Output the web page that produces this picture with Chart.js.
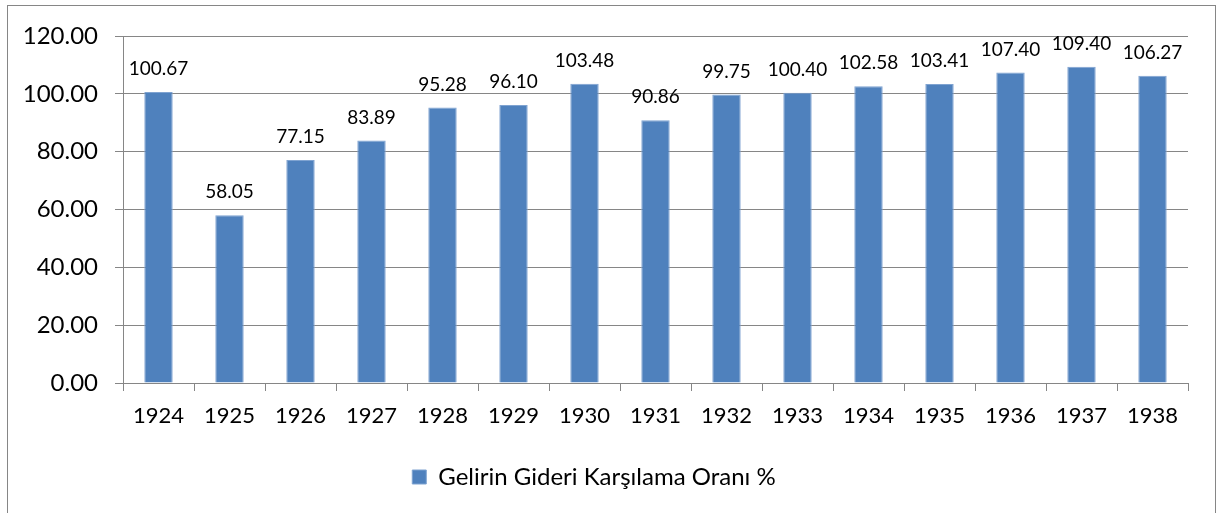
<!DOCTYPE html>
<html>
<head>
<meta charset="utf-8">
<script src="https://cdn.jsdelivr.net/npm/chart.js@4.4.0/dist/chart.umd.min.js"></script>
<style>
html,body{margin:0;padding:0;background:#fff;}
#wrap{width:1217px;height:513px;position:relative;}
</style>
</head>
<body>
<div id="wrap"><canvas id="c" width="1217" height="513"></canvas></div>
<script>
const categories = ['1924','1925','1926','1927','1928','1929','1930','1931','1932','1933','1934','1935','1936','1937','1938'];
const values = [100.67, 58.05, 77.15, 83.89, 95.28, 96.10, 103.48, 90.86, 99.75, 100.40, 102.58, 103.41, 107.40, 109.40, 106.27];
const seriesName = 'Gelirin Gideri Karşılama Oranı %';
const yTicks = [0, 20, 40, 60, 80, 100, 120];

const FONT = 'Lato';

const frame = {
  id: 'frame',
  beforeDraw(chart) {
    const ctx = chart.ctx;
    ctx.save();
    ctx.fillStyle = '#fff';
    ctx.fillRect(0, 0, chart.width, chart.height);
    ctx.strokeStyle = '#868686';
    ctx.lineWidth = 1;
    ctx.strokeRect(7.5, 5.5, 1208, 530);
    ctx.restore();
  }
};

const labels = {
  id: 'labels',
  afterDatasetsDraw(chart) {
    const ctx = chart.ctx;
    const meta = chart.getDatasetMeta(0);
    ctx.save();
    ctx.font = '19px ' + FONT;
    ctx.fillStyle = '#000';
    ctx.textAlign = 'center';
    ctx.textBaseline = 'middle';
    meta.data.forEach((bar, i) => {
      ctx.fillText(values[i].toFixed(2), bar.x, bar.y - 23);
    });
    ctx.restore();
  }
};

new Chart(document.getElementById('c'), {
  type: 'bar',
  data: {
    labels: categories,
    datasets: [{
      label: seriesName,
      data: values,
      backgroundColor: '#4F81BD',
      borderColor: '#7FA3D1',
      borderWidth: 1,
      categoryPercentage: 1,
      barPercentage: 0.4
    }]
  },
  options: {
    responsive: false,
    animation: false,
    devicePixelRatio: 1,
    layout: { padding: { left: 0, top: 36, right: 29, bottom: 14 } },
    plugins: {
      legend: {
        position: 'bottom',
        labels: {
          boxWidth: 14, boxHeight: 14,
          color: '#000',
          font: { family: FONT, size: 24 },
          padding: 10
        }
      },
      tooltip: { enabled: false }
    },
    scales: {
      x: {
        grid: { display: true, drawOnChartArea: false, drawTicks: true, tickLength: 8, color: '#868686', offset: true },
        border: { color: '#868686', width: 1 },
        ticks: { color: '#000', font: { family: FONT, size: 22 }, padding: 12, maxRotation: 0 },
        afterFit(s) { s.height = 72; }
      },
      y: {
        min: 0, max: 120,
        afterBuildTicks(s) { s.ticks = yTicks.map(v => ({ value: v })); },
        grid: { color: '#868686', tickLength: 8 },
        border: { color: '#868686', width: 1 },
        ticks: { color: '#000', font: { family: FONT, size: 24 }, padding: 17, callback: v => Number(v).toFixed(2) },
        afterFit(s) { s.width = 123; }
      }
    }
  },
  plugins: [frame, labels]
});
</script>
</body>
</html>
